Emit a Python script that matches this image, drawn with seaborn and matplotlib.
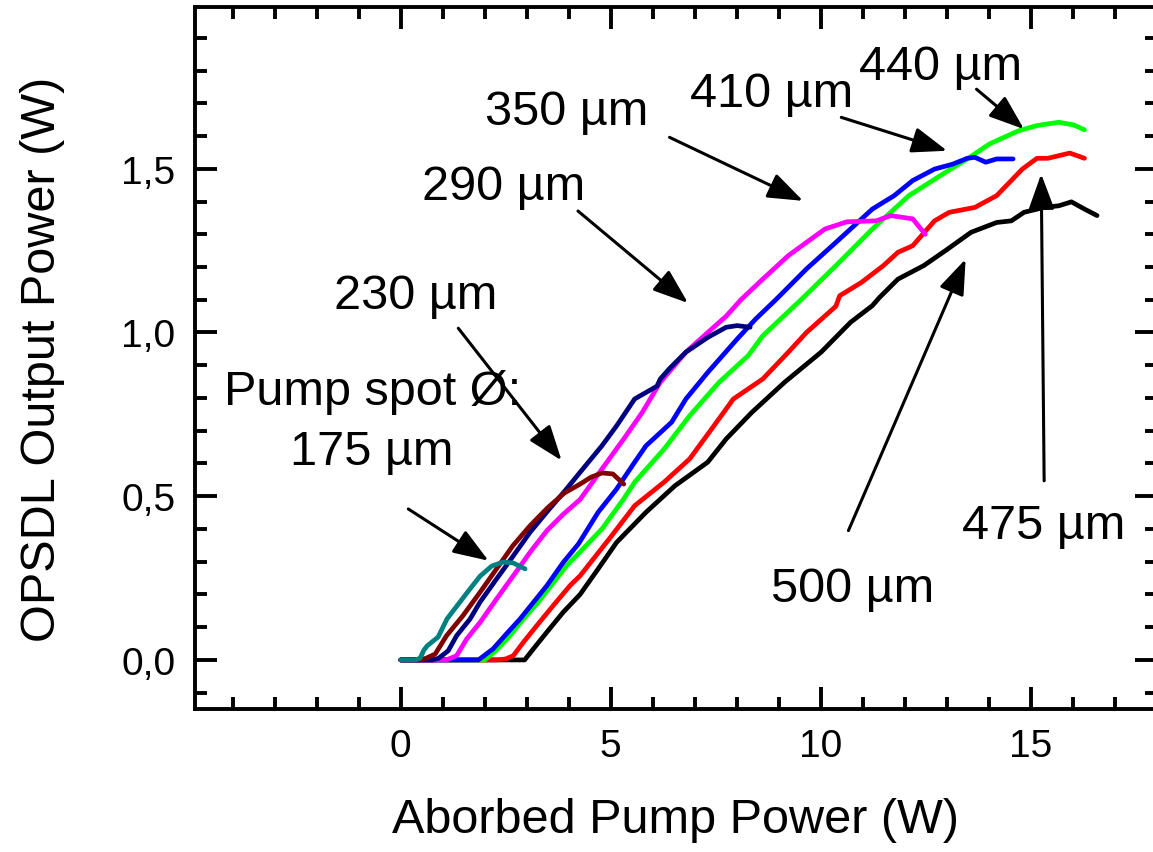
import matplotlib
matplotlib.use("Agg")
import matplotlib.pyplot as plt
from matplotlib.ticker import MultipleLocator, FixedLocator
import pandas as pd
import seaborn as sns

# ---- measured curves: absorbed pump power (W) -> OPSDL output power (W) ----
spot_labels = ["500 µm", "475 µm", "440 µm", "410 µm", "350 µm", "290 µm", "230 µm", "175 µm"]
line_colors = ["#000000", "#ff0000", "#00ff00", "#0000ff", "#ff00ff", "#000080", "#800000", "#008080"]

pump_500 = [0, 2.95, 3.16, 3.48, 3.87, 4.27, 4.7, 5.14, 5.84, 6.53, 7.31, 7.75, 8.36, 9.14, 10.01,
            10.71, 11.23, 11.4, 11.84, 12.45, 12.97, 13.58, 14.19, 14.54, 14.84, 15.32, 15.67,
            15.97, 16.28, 16.58]
out_500 = [0, 0, 0.034, 0.085, 0.146, 0.2, 0.278, 0.359, 0.451, 0.532, 0.604, 0.675, 0.756, 0.848,
           0.94, 1.031, 1.082, 1.107, 1.163, 1.204, 1.25, 1.306, 1.336, 1.341, 1.367, 1.382, 1.387,
           1.399, 1.377, 1.357]

pump_475 = [0, 2.3, 2.5, 2.68, 2.92, 3.24, 3.63, 4.03, 4.27, 4.96, 5.57, 6.27, 6.88, 7.4, 7.92,
            8.62, 9.23, 9.66, 10.36, 10.45, 10.97, 11.49, 11.84, 12.19, 12.71, 13.06, 13.67,
            14.19, 14.8, 15.15, 15.41, 15.93, 16.28]
out_475 = [0, 0, 0.003, 0.013, 0.054, 0.105, 0.166, 0.227, 0.257, 0.369, 0.471, 0.543, 0.614,
           0.705, 0.797, 0.858, 0.94, 1.0, 1.08, 1.112, 1.153, 1.204, 1.245, 1.265, 1.341, 1.367,
           1.382, 1.418, 1.499, 1.532, 1.532, 1.548, 1.532]

pump_440 = [0, 2.0, 2.28, 2.6, 2.92, 3.24, 3.55, 3.95, 4.27, 4.79, 5.31, 5.57, 6.27, 6.88, 7.58,
            8.27, 8.62, 9.53, 10.36, 11.23, 12.1, 12.97, 13.49, 14.02, 14.71, 15.15, 15.67,
            16.02, 16.28]
out_440 = [0, 0, 0.03, 0.074, 0.125, 0.171, 0.222, 0.288, 0.33, 0.4, 0.492, 0.543, 0.644, 0.746,
           0.848, 0.929, 0.99, 1.10, 1.204, 1.316, 1.418, 1.489, 1.53, 1.576, 1.616, 1.632,
           1.642, 1.634, 1.619]

pump_410 = [0, 1.85, 2.2, 2.52, 2.84, 3.16, 3.48, 3.87, 4.23, 4.7, 5.14, 5.57, 5.84, 6.45, 6.79,
            7.31, 8.01, 8.45, 8.93, 9.66, 10.36, 11.23, 11.75, 12.19, 12.71, 13.14, 13.49,
            13.67, 13.93, 14.19, 14.58]
out_410 = [0, 0, 0.034, 0.08, 0.125, 0.176, 0.227, 0.298, 0.354, 0.451, 0.522, 0.604, 0.654,
           0.726, 0.797, 0.878, 0.98, 1.041, 1.10, 1.194, 1.275, 1.377, 1.418, 1.464, 1.499,
           1.514, 1.532, 1.535, 1.52, 1.53, 1.53]

pump_350 = [0, 0.95, 1.09, 1.33, 1.57, 1.89, 2.28, 2.68, 3.08, 3.48, 3.87, 4.27, 4.79, 5.31,
            5.75, 6.18, 6.79, 7.31, 7.75, 8.1, 8.62, 9.23, 10.1, 10.62, 11.32, 11.67, 12.19, 12.49]
out_350 = [0, 0, 0.0, 0.013, 0.064, 0.115, 0.186, 0.257, 0.329, 0.395, 0.445, 0.49, 0.583, 0.675,
           0.756, 0.848, 0.94, 1.0, 1.05, 1.10, 1.163, 1.235, 1.316, 1.338, 1.341, 1.357, 1.347,
           1.30]

pump_290 = [0, 0.75, 0.9, 1.13, 1.33, 1.65, 1.89, 2.28, 2.68, 3.08, 3.5, 3.9, 4.27, 4.79, 5.14,
            5.57, 6.1, 6.18, 6.4, 6.79, 7.31, 7.75, 8.01, 8.32]
out_290 = [0, 0, 0.005, 0.028, 0.074, 0.125, 0.177, 0.247, 0.318, 0.39, 0.455, 0.515, 0.573,
           0.654, 0.715, 0.797, 0.836, 0.858, 0.89, 0.94, 0.985, 1.016, 1.021, 1.016]

pump_230 = [0, 0.45, 0.6, 0.82, 1.09, 1.48, 1.89, 2.28, 2.67, 3.08, 3.5, 3.9, 4.27, 4.53, 4.79,
            5.05, 5.31]
out_230 = [0, 0, 0.005, 0.018, 0.074, 0.135, 0.207, 0.278, 0.349, 0.41, 0.465, 0.51, 0.537,
           0.558, 0.571, 0.568, 0.537]

pump_175 = [0, 0.35, 0.46, 0.55, 0.63, 0.89, 1.1, 1.41, 1.65, 1.89, 2.17, 2.44, 2.68, 2.96]
out_175 = [0, 0, 0.005, 0.03, 0.043, 0.07, 0.125, 0.177, 0.217, 0.256, 0.287, 0.299, 0.296,
           0.278]

pump_series = [pump_500, pump_475, pump_440, pump_410, pump_350, pump_290, pump_230, pump_175]
out_series = [out_500, out_475, out_440, out_410, out_350, out_290, out_230, out_175]

x_ticks = [0, 5, 10, 15]
x_tick_labels = ["0", "5", "10", "15"]
y_ticks = [0.0, 0.5, 1.0, 1.5]
y_tick_labels = ["0,0", "0,5", "1,0", "1,5"]

frames = []
for label, px, py in zip(spot_labels, pump_series, out_series):
    frames.append(pd.DataFrame({"pump": px, "output": py, "spot": label}))
df = pd.concat(frames, ignore_index=True)

# ---- style ----
sns.set_style("ticks")
plt.rcParams["font.family"] = ["Liberation Sans", "DejaVu Sans"]
plt.rcParams["text.color"] = "black"
plt.rcParams["axes.labelcolor"] = "black"
plt.rcParams["xtick.color"] = "black"
plt.rcParams["ytick.color"] = "black"
plt.rcParams["axes.edgecolor"] = "black"

fig = plt.figure(figsize=(11.53, 8.53), dpi=100)
ax = fig.add_axes([0.1691, 0.1676, 0.8341, 0.8230])

sns.lineplot(data=df, x="pump", y="output", hue="spot", hue_order=spot_labels,
             palette=dict(zip(spot_labels, line_colors)), sort=False, estimator=None,
             linewidth=3.4, legend=False, ax=ax)

ax.set_xlim(-4.9, 18)
ax.set_ylim(-0.15, 1.994)

ax.xaxis.set_major_locator(FixedLocator(x_ticks))
ax.set_xticklabels(x_tick_labels)
ax.xaxis.set_minor_locator(MultipleLocator(1))
ax.yaxis.set_major_locator(FixedLocator(y_ticks))
ax.set_yticklabels(y_tick_labels)
ax.yaxis.set_minor_locator(MultipleLocator(0.1))

ax.tick_params(which="both", direction="in", top=True, right=True,
               colors="black", labelcolor="black")
ax.tick_params(which="major", length=16, width=2.8, labelsize=28)
ax.tick_params(axis="x", which="major", pad=14)
ax.tick_params(axis="y", which="major", pad=14)
ax.tick_params(which="minor", length=8.5, width=2.8)
for side in ax.spines.values():
    side.set_linewidth(2.8)
    side.set_color("black")

ax.set_xlabel("Aborbed Pump Power (W)", fontsize=35, color="black")
ax.set_ylabel("OPSDL Output Power (W)", fontsize=35, color="black")
ax.xaxis.set_label_coords(0.5, -0.125)
ax.yaxis.set_label_coords(-0.135, 0.5)

# ---- spot-size labels with arrows ----
text_kw = dict(fontsize=35, ha="center", va="baseline", color="black")
arrow_kw = dict(arrowstyle="-|>,head_length=0.6,head_width=0.22", color="black",
                lw=2.2, shrinkA=0, shrinkB=0, mutation_scale=36)

labels_at = [
    ("350 µm", 3.95, 1.637, (6.40, 1.596), (9.58, 1.402)),
    ("290 µm", 2.46, 1.408, (4.22, 1.371), (6.84, 1.090)),
    ("230 µm", 0.36, 1.075, (1.37, 1.013), (3.83, 0.609)),
    ("410 µm", 8.84, 1.692, (10.49, 1.657), (13.01, 1.555)),
    ("440 µm", 12.86, 1.774, (13.71, 1.743), (14.84, 1.621)),
    ("475 µm", 15.32, 0.3725, (15.32, 0.547), (15.25, 1.484)),
    ("500 µm", 10.77, 0.181, (10.66, 0.395), (13.45, 1.224)),
    ("175 µm", -0.68, 0.598, (0.18, 0.461), (2.09, 0.303)),
]
for text, tx, ty, tail, tip in labels_at:
    ax.text(tx, ty, text, **text_kw)
    ax.annotate("", xy=tip, xytext=tail, arrowprops=arrow_kw)

ax.text(-0.68, 0.782, "Pump spot Ø:", **text_kw)

fig.savefig("out.png", dpi=100)
